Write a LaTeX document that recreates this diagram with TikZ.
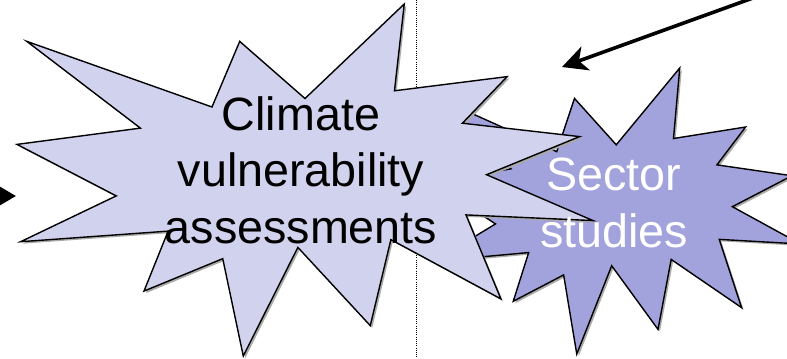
\documentclass[tikz,border=0pt]{standalone}
\usepackage{fontspec}
\setmainfont{Liberation Sans}
\usetikzlibrary{arrows.meta}

\definecolor{paleviolet}{RGB}{209,211,238}
\definecolor{midviolet}{RGB}{162,162,220}
\definecolor{burstshadow}{RGB}{170,170,170}

% Explosion outline on a 216 x 216 grid
\newcommand{\burstoutline}{%
  (108.00,58.00) -- (145.22,0) -- (141.55,53.25) -- (183.80,44.57) --
  (167.02,73.15) -- (210.97,81.37) -- (176.07,104.75) -- (216.00,132.90) --
  (168.37,129.42) -- (181.45,180.95) -- (140.20,144.57) -- (132.47,197.37) --
  (105.32,149.35) -- (84.85,216.00) -- (77.15,156.27) -- (47.62,176.17) --
  (56.67,139.37) -- (1.35,145.87) -- (37.22,117.75) -- (0,86.15) --
  (46.27,76.17) -- (3.70,22.95) -- (73.12,63.20) -- (83.52,22.95) -- cycle}

\tikzset{
  burst/.style={draw=black, line width=1.4bp, line join=miter},
  burstlabel/.style={font=\fontsize{46.7bp}{56.3bp}\selectfont, align=center,
    inner sep=0pt, anchor=base},
  feedarrow/.style={line width=3.2bp, -{Triangle[length=17bp,width=19bp]}},
  pointarrow/.style={line width=3.6bp, -{Stealth[length=25bp,width=25bp,inset=7bp]}},
  divider/.style={line width=1bp, dash pattern=on 1bp off 1.2bp}
}

\begin{document}
\begin{tikzpicture}[x=1bp,y=-1bp]
\useasboundingbox (0,0) rectangle (787,358);
\clip (0,0) rectangle (787,358);

% dotted divider
\coordinate (divtop) at (416,0);
\coordinate (divbot) at (416,358);
\draw[divider] (divtop) -- (divbot);

% sector studies burst (behind)
\begin{scope}[shift={(434,70)}, xscale=1.706, yscale=1.3241]
  \fill[burstshadow] \burstoutline;
\end{scope}
\begin{scope}[shift={(432,68)}, xscale=1.706, yscale=1.3241]
  \filldraw[burst, fill=midviolet] \burstoutline;
\end{scope}

% climate vulnerability burst (front)
\begin{scope}[shift={(19,6)}, xscale=2.6667, yscale=1.6296]
  \fill[burstshadow] \burstoutline;
\end{scope}
\begin{scope}[shift={(17,4)}, xscale=2.6667, yscale=1.6296]
  \filldraw[burst, fill=paleviolet] \burstoutline;
\end{scope}

% labels (anchored on the baseline of the last line)
\node[burstlabel, text=black] (cva) at (301,243) {Climate\\vulnerability\\assessments};
\node[burstlabel, text=white] (sector) at (614,247) {Sector\\studies};

% arrows
\coordinate (leftfeed) at (-40,196);
\coordinate (lefttip) at (16,196);
\draw[feedarrow] (leftfeed) -- (lefttip);

\coordinate (topfeed) at (775,-10);
\coordinate (toptip) at (562,67);
\draw[pointarrow] (topfeed) -- (toptip);
\end{tikzpicture}
\end{document}
